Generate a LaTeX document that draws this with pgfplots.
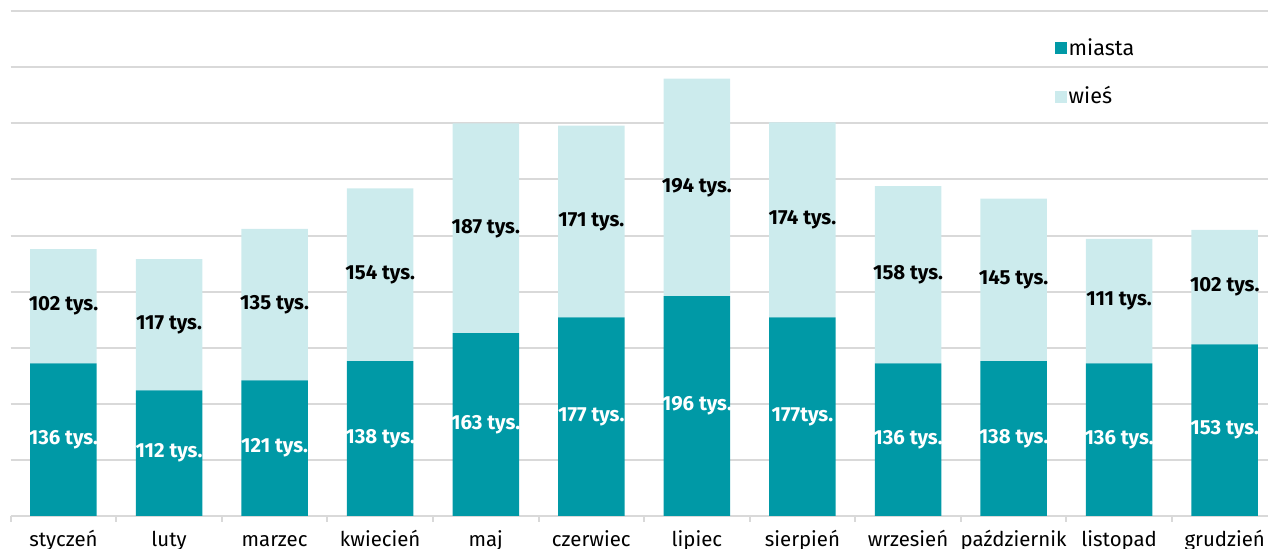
\documentclass[border=0pt]{standalone}
\usepackage{fontspec}
\setmainfont{Fira Sans}
\usepackage{pgfplots}
\usepackage{pgfplotstable}
\pgfplotsset{compat=1.18}

\definecolor{miasta}{HTML}{0099A6}
\definecolor{wies}{HTML}{CCEBED}
\definecolor{siatka}{HTML}{D9D9D9}

% wartosci w tys.: miasta (m), wies (w), opisy slupkow
\pgfplotstableread{
x  m    w    ml           wl
0  136  102  {136 tys.}   {102 tys.}
1  112  117  {112 tys.}   {117 tys.}
2  121  135  {121 tys.}   {135 tys.}
3  138  154  {138 tys.}   {154 tys.}
4  163  187  {163 tys.}   {187 tys.}
5  177  171  {177 tys.}   {171 tys.}
6  196  194  {196 tys.}   {194 tys.}
7  177  174  {177tys.}    {174 tys.}
8  136  158  {136 tys.}   {158 tys.}
9  138  145  {138 tys.}   {145 tys.}
10 136  111  {136 tys.}   {111 tys.}
11 153  102  {153 tys.}   {102 tys.}
}\dane

\pgfplotsset{
  wspolne/.style={
    scale only axis,
    width=628.65pt,
    height=258pt,
    xmin=-0.5, xmax=11.41,
    ymin=0, ymax=460,
  },
}

\begin{document}
\begin{tikzpicture}
\begin{axis}[
    wspolne,
    ybar stacked,
    bar width=0.63,
    axis line style={draw=none},
    ytick={0,50,...,450},
    yticklabels={},
    ytick style={draw=none},
    ymajorgrids=true,
    grid style={siatka, line width=1pt},
    xtick={0,...,11},
    xticklabels={styczeń,luty,marzec,kwiecień,maj,czerwiec,lipiec,sierpień,wrzesień,październik,listopad,grudzień},
    xtick pos=bottom,
    major x tick style={draw=none},
    minor xtick={-0.5,0.5,...,11.5},
    minor x tick style={siatka, line width=1pt},
    minor tick length=3pt,
    tick align=outside,
    xticklabel style={font=\fontsize{10.2}{12}\selectfont, anchor=base, yshift=-10.8pt},
    legend style={draw=none, fill=none, at={(0.83,0.93)}, anchor=north west,
      font=\fontsize{10.8}{13}\selectfont, row sep=12pt, inner sep=0pt,
      nodes={inner sep=1pt}},
    legend cell align=left,
    legend image code/.code={\fill[#1] (0pt,-3pt) rectangle (6pt,3pt);},
]
\addplot[fill=miasta, draw=none] table[x=x, y=m] {\dane};
\addplot[fill=wies, draw=none] table[x=x, y=w] {\dane};
\legend{miasta, wieś}
\end{axis}

\begin{axis}[
    wspolne,
    hide axis,
    nodes near coords,
    point meta=explicit symbolic,
]
\addplot[draw=none, mark=none,
  nodes near coords style={anchor=center, inner sep=0pt, text=white,
    font=\fontsize{10.2}{12}\selectfont\bfseries}]
  table[x=x, y expr=\thisrow{m}/2, meta=ml] {\dane};
\addplot[draw=none, mark=none,
  nodes near coords style={anchor=center, inner sep=0pt, text=black,
    font=\fontsize{10.2}{12}\selectfont\bfseries}]
  table[x=x, y expr=\thisrow{m}+\thisrow{w}/2, meta=wl] {\dane};
\end{axis}

\pgfresetboundingbox
\path ([xshift=-5.35pt, yshift=-16.5pt]current axis.south west)
  rectangle (current axis.north east);
\end{tikzpicture}
\end{document}
